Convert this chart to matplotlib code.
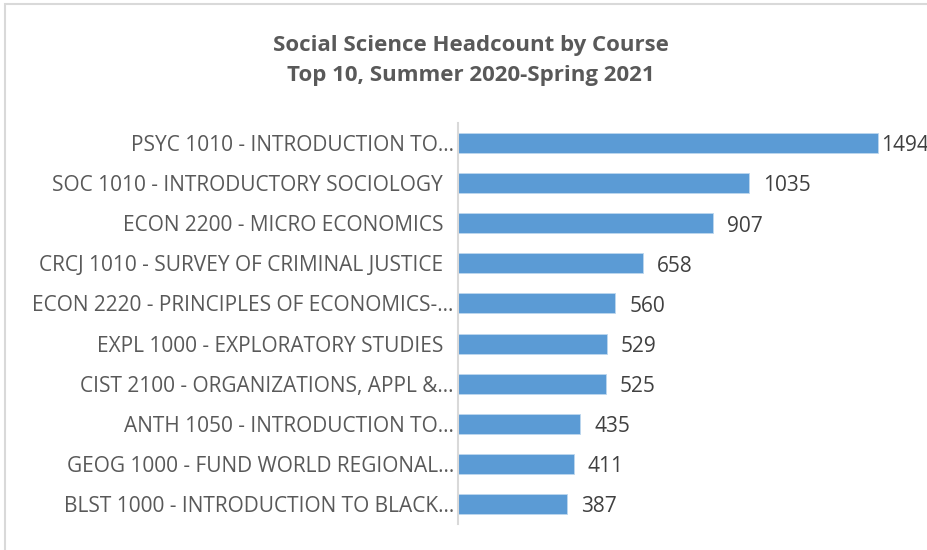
import matplotlib.pyplot as plt
from matplotlib.patches import Rectangle

courses = [
    "PSYC 1010 - INTRODUCTION TO\u2026",
    "SOC 1010 - INTRODUCTORY SOCIOLOGY  ",
    "ECON 2200 - MICRO ECONOMICS  ",
    "CRCJ 1010 - SURVEY OF CRIMINAL JUSTICE  ",
    "ECON 2220 - PRINCIPLES OF ECONOMICS-\u2026",
    "EXPL 1000 - EXPLORATORY STUDIES  ",
    "CIST 2100 - ORGANIZATIONS, APPL &\u2026",
    "ANTH 1050 - INTRODUCTION TO\u2026",
    "GEOG 1000 - FUND WORLD REGIONAL\u2026",
    "BLST 1000 - INTRODUCTION TO BLACK\u2026",
]
headcount = [1494, 1035, 907, 658, 560, 529, 525, 435, 411, 387]

plt.rcParams['font.family'] = ['Open Sans', 'DejaVu Sans']

W, H = 928, 550
fig = plt.figure(figsize=(W / 100, H / 100), dpi=100)

# light chart border (cut off at right/bottom like the screenshot)
fig.patches.append(Rectangle((5 / W, -0.1), 1.2, 1 - 4 / H + 0.1, transform=fig.transFigure,
                             fill=False, edgecolor='#D9D9D9', linewidth=1.5))

ax = fig.add_axes([458 / W, 1 - 524 / H, 450 / W, (524 - 123) / H])
ypos = list(range(len(courses)))
ax.barh(ypos, headcount, height=0.5, color='#5B9BD5', edgecolor='#BDD7EE', linewidth=0.6)
ax.set_ylim(len(courses) - 0.5, -0.5)
ax.set_xlim(0, 1600)
ax.set_yticks(ypos)
ax.set_yticklabels(courses, fontsize=15, color='#595959')
ax.tick_params(axis='y', length=0, pad=3)
ax.set_xticks([])
for s in ['top', 'right', 'bottom']:
    ax.spines[s].set_visible(False)
ax.spines['left'].set_color('#D9D9D9')
ax.spines['left'].set_linewidth(1.5)

for y, v in zip(ypos, headcount):
    off = 2 if v == max(headcount) else 10
    ax.annotate(str(v), (v, y), xytext=(off, -2), textcoords='offset points',
                ha='left', va='center', fontsize=15, color='#404040',
                annotation_clip=False)

fig.text(471 / W, 1 - 45 / H, "Social Science Headcount by Course", ha='center', va='center',
         fontsize=16, fontweight='bold', color='#595959')
fig.text(471 / W, 1 - 75 / H, "Top 10, Summer 2020-Spring 2021", ha='center', va='center',
         fontsize=16, fontweight='bold', color='#595959')

fig.savefig('out.png', dpi=100)
